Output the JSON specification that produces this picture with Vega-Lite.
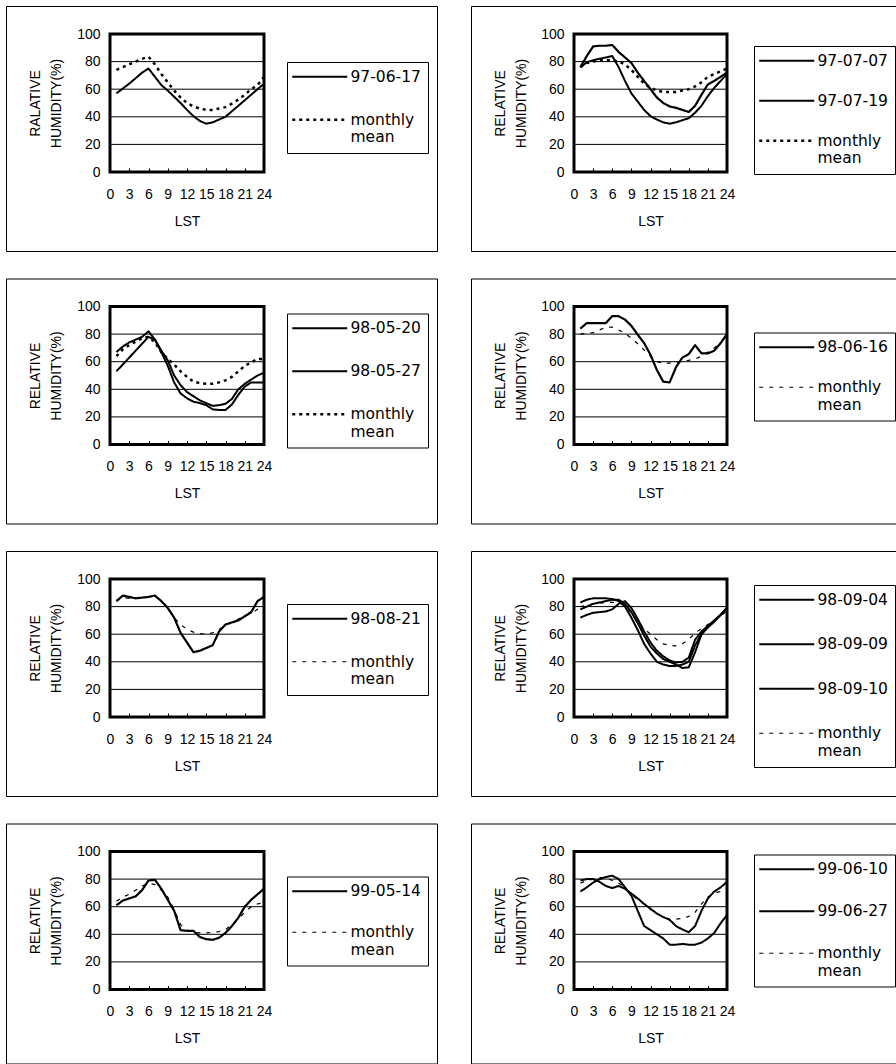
{
"$schema": "https://vega.github.io/schema/vega-lite/v6.json",
"padding": {"left": 5, "top": 5, "right": 0, "bottom": 0},
"background": "white",
"datasets": {
"p1": [
{"h":1,"s":"97-06-17","v":57},{"h":2,"s":"97-06-17","v":60.5},{"h":3,"s":"97-06-17","v":64},{"h":4,"s":"97-06-17","v":68},{"h":5,"s":"97-06-17","v":72},{"h":6,"s":"97-06-17","v":75},{"h":7,"s":"97-06-17","v":69},{"h":8,"s":"97-06-17","v":63},{"h":9,"s":"97-06-17","v":59},{"h":10,"s":"97-06-17","v":54.5},{"h":11,"s":"97-06-17","v":50},{"h":12,"s":"97-06-17","v":45},{"h":13,"s":"97-06-17","v":40.5},{"h":14,"s":"97-06-17","v":37},{"h":15,"s":"97-06-17","v":35},{"h":16,"s":"97-06-17","v":36},{"h":17,"s":"97-06-17","v":38},{"h":18,"s":"97-06-17","v":40},{"h":19,"s":"97-06-17","v":44},{"h":20,"s":"97-06-17","v":48},{"h":21,"s":"97-06-17","v":52},{"h":22,"s":"97-06-17","v":56},{"h":23,"s":"97-06-17","v":60},{"h":24,"s":"97-06-17","v":64},
{"h":1,"s":"monthly mean","v":74},{"h":2,"s":"monthly mean","v":76},{"h":3,"s":"monthly mean","v":78},{"h":4,"s":"monthly mean","v":80},{"h":5,"s":"monthly mean","v":82},{"h":6,"s":"monthly mean","v":83.5},{"h":7,"s":"monthly mean","v":78},{"h":8,"s":"monthly mean","v":71},{"h":9,"s":"monthly mean","v":65},{"h":10,"s":"monthly mean","v":59},{"h":11,"s":"monthly mean","v":54},{"h":12,"s":"monthly mean","v":50},{"h":13,"s":"monthly mean","v":47.5},{"h":14,"s":"monthly mean","v":46},{"h":15,"s":"monthly mean","v":45},{"h":16,"s":"monthly mean","v":45},{"h":17,"s":"monthly mean","v":46},{"h":18,"s":"monthly mean","v":47},{"h":19,"s":"monthly mean","v":49.5},{"h":20,"s":"monthly mean","v":52.5},{"h":21,"s":"monthly mean","v":56},{"h":22,"s":"monthly mean","v":60},{"h":23,"s":"monthly mean","v":63},{"h":24,"s":"monthly mean","v":69}
],
"p2": [
{"h":1,"s":"97-07-07","v":76},{"h":2,"s":"97-07-07","v":84},{"h":3,"s":"97-07-07","v":91},{"h":4,"s":"97-07-07","v":91.5},{"h":5,"s":"97-07-07","v":91.5},{"h":6,"s":"97-07-07","v":92},{"h":7,"s":"97-07-07","v":87},{"h":8,"s":"97-07-07","v":83},{"h":9,"s":"97-07-07","v":79},{"h":10,"s":"97-07-07","v":72},{"h":11,"s":"97-07-07","v":66},{"h":12,"s":"97-07-07","v":60},{"h":13,"s":"97-07-07","v":54},{"h":14,"s":"97-07-07","v":50},{"h":15,"s":"97-07-07","v":47.5},{"h":16,"s":"97-07-07","v":46.5},{"h":17,"s":"97-07-07","v":45},{"h":18,"s":"97-07-07","v":43.5},{"h":19,"s":"97-07-07","v":48},{"h":20,"s":"97-07-07","v":56},{"h":21,"s":"97-07-07","v":63.5},{"h":22,"s":"97-07-07","v":66},{"h":23,"s":"97-07-07","v":69},{"h":24,"s":"97-07-07","v":72},
{"h":1,"s":"97-07-19","v":76},{"h":2,"s":"97-07-19","v":79.5},{"h":3,"s":"97-07-19","v":81},{"h":4,"s":"97-07-19","v":82},{"h":5,"s":"97-07-19","v":83},{"h":6,"s":"97-07-19","v":84},{"h":7,"s":"97-07-19","v":76},{"h":8,"s":"97-07-19","v":66},{"h":9,"s":"97-07-19","v":57},{"h":10,"s":"97-07-19","v":51},{"h":11,"s":"97-07-19","v":45},{"h":12,"s":"97-07-19","v":40.5},{"h":13,"s":"97-07-19","v":38},{"h":14,"s":"97-07-19","v":36},{"h":15,"s":"97-07-19","v":35},{"h":16,"s":"97-07-19","v":36},{"h":17,"s":"97-07-19","v":37.5},{"h":18,"s":"97-07-19","v":39},{"h":19,"s":"97-07-19","v":43},{"h":20,"s":"97-07-19","v":48},{"h":21,"s":"97-07-19","v":55},{"h":22,"s":"97-07-19","v":61},{"h":23,"s":"97-07-19","v":66},{"h":24,"s":"97-07-19","v":71},
{"h":1,"s":"monthly mean","v":76},{"h":2,"s":"monthly mean","v":79},{"h":3,"s":"monthly mean","v":80},{"h":4,"s":"monthly mean","v":81},{"h":5,"s":"monthly mean","v":81},{"h":6,"s":"monthly mean","v":81},{"h":7,"s":"monthly mean","v":80},{"h":8,"s":"monthly mean","v":78},{"h":9,"s":"monthly mean","v":74},{"h":10,"s":"monthly mean","v":69},{"h":11,"s":"monthly mean","v":64},{"h":12,"s":"monthly mean","v":61},{"h":13,"s":"monthly mean","v":59},{"h":14,"s":"monthly mean","v":58},{"h":15,"s":"monthly mean","v":58},{"h":16,"s":"monthly mean","v":58},{"h":17,"s":"monthly mean","v":59},{"h":18,"s":"monthly mean","v":60},{"h":19,"s":"monthly mean","v":62},{"h":20,"s":"monthly mean","v":65},{"h":21,"s":"monthly mean","v":69},{"h":22,"s":"monthly mean","v":71},{"h":23,"s":"monthly mean","v":73},{"h":24,"s":"monthly mean","v":75}
],
"p3": [
{"h":1,"s":"98-05-20","v":53},{"h":2,"s":"98-05-20","v":58},{"h":3,"s":"98-05-20","v":63},{"h":4,"s":"98-05-20","v":68},{"h":5,"s":"98-05-20","v":73},{"h":6,"s":"98-05-20","v":78},{"h":7,"s":"98-05-20","v":76},{"h":8,"s":"98-05-20","v":68},{"h":9,"s":"98-05-20","v":61},{"h":10,"s":"98-05-20","v":50},{"h":11,"s":"98-05-20","v":43},{"h":12,"s":"98-05-20","v":38},{"h":13,"s":"98-05-20","v":35},{"h":14,"s":"98-05-20","v":32},{"h":15,"s":"98-05-20","v":30},{"h":16,"s":"98-05-20","v":28},{"h":17,"s":"98-05-20","v":28.5},{"h":18,"s":"98-05-20","v":29.5},{"h":19,"s":"98-05-20","v":33},{"h":20,"s":"98-05-20","v":40},{"h":21,"s":"98-05-20","v":44},{"h":22,"s":"98-05-20","v":47},{"h":23,"s":"98-05-20","v":50},{"h":24,"s":"98-05-20","v":52},
{"h":1,"s":"98-05-27","v":67},{"h":2,"s":"98-05-27","v":71},{"h":3,"s":"98-05-27","v":74},{"h":4,"s":"98-05-27","v":76},{"h":5,"s":"98-05-27","v":78},{"h":6,"s":"98-05-27","v":82},{"h":7,"s":"98-05-27","v":76},{"h":8,"s":"98-05-27","v":67},{"h":9,"s":"98-05-27","v":57},{"h":10,"s":"98-05-27","v":45},{"h":11,"s":"98-05-27","v":37},{"h":12,"s":"98-05-27","v":33.5},{"h":13,"s":"98-05-27","v":31},{"h":14,"s":"98-05-27","v":30},{"h":15,"s":"98-05-27","v":28.5},{"h":16,"s":"98-05-27","v":25.5},{"h":17,"s":"98-05-27","v":25},{"h":18,"s":"98-05-27","v":25},{"h":19,"s":"98-05-27","v":29},{"h":20,"s":"98-05-27","v":36},{"h":21,"s":"98-05-27","v":42},{"h":22,"s":"98-05-27","v":45},{"h":23,"s":"98-05-27","v":45},{"h":24,"s":"98-05-27","v":45},
{"h":1,"s":"monthly mean","v":64},{"h":2,"s":"monthly mean","v":69},{"h":3,"s":"monthly mean","v":72},{"h":4,"s":"monthly mean","v":74.5},{"h":5,"s":"monthly mean","v":77},{"h":6,"s":"monthly mean","v":78},{"h":7,"s":"monthly mean","v":74},{"h":8,"s":"monthly mean","v":67},{"h":9,"s":"monthly mean","v":62},{"h":10,"s":"monthly mean","v":58},{"h":11,"s":"monthly mean","v":53},{"h":12,"s":"monthly mean","v":49},{"h":13,"s":"monthly mean","v":45.5},{"h":14,"s":"monthly mean","v":44.5},{"h":15,"s":"monthly mean","v":44},{"h":16,"s":"monthly mean","v":44},{"h":17,"s":"monthly mean","v":45},{"h":18,"s":"monthly mean","v":46.5},{"h":19,"s":"monthly mean","v":49},{"h":20,"s":"monthly mean","v":53},{"h":21,"s":"monthly mean","v":57},{"h":22,"s":"monthly mean","v":59.5},{"h":23,"s":"monthly mean","v":62},{"h":24,"s":"monthly mean","v":62}
],
"p4": [
{"h":1,"s":"98-06-16","v":84},{"h":2,"s":"98-06-16","v":88},{"h":3,"s":"98-06-16","v":88},{"h":4,"s":"98-06-16","v":88},{"h":5,"s":"98-06-16","v":88},{"h":6,"s":"98-06-16","v":93},{"h":7,"s":"98-06-16","v":93},{"h":8,"s":"98-06-16","v":90.5},{"h":9,"s":"98-06-16","v":86},{"h":10,"s":"98-06-16","v":79.5},{"h":11,"s":"98-06-16","v":73.5},{"h":12,"s":"98-06-16","v":65},{"h":13,"s":"98-06-16","v":54},{"h":14,"s":"98-06-16","v":45.5},{"h":15,"s":"98-06-16","v":45},{"h":16,"s":"98-06-16","v":56},{"h":17,"s":"98-06-16","v":63},{"h":18,"s":"98-06-16","v":65.5},{"h":19,"s":"98-06-16","v":72},{"h":20,"s":"98-06-16","v":66},{"h":21,"s":"98-06-16","v":66},{"h":22,"s":"98-06-16","v":68},{"h":23,"s":"98-06-16","v":73.5},{"h":24,"s":"98-06-16","v":80},
{"h":1,"s":"monthly mean","v":80},{"h":2,"s":"monthly mean","v":80.5},{"h":3,"s":"monthly mean","v":81},{"h":4,"s":"monthly mean","v":83},{"h":5,"s":"monthly mean","v":85},{"h":6,"s":"monthly mean","v":85},{"h":7,"s":"monthly mean","v":83},{"h":8,"s":"monthly mean","v":80.5},{"h":9,"s":"monthly mean","v":77},{"h":10,"s":"monthly mean","v":73},{"h":11,"s":"monthly mean","v":68.5},{"h":12,"s":"monthly mean","v":64},{"h":13,"s":"monthly mean","v":60},{"h":14,"s":"monthly mean","v":59},{"h":15,"s":"monthly mean","v":59},{"h":16,"s":"monthly mean","v":59.5},{"h":17,"s":"monthly mean","v":60},{"h":18,"s":"monthly mean","v":61},{"h":19,"s":"monthly mean","v":62},{"h":20,"s":"monthly mean","v":64},{"h":21,"s":"monthly mean","v":67},{"h":22,"s":"monthly mean","v":70},{"h":23,"s":"monthly mean","v":74},{"h":24,"s":"monthly mean","v":79}
],
"p5": [
{"h":1,"s":"98-08-21","v":84},{"h":2,"s":"98-08-21","v":88},{"h":3,"s":"98-08-21","v":87},{"h":4,"s":"98-08-21","v":86},{"h":5,"s":"98-08-21","v":86.5},{"h":6,"s":"98-08-21","v":87},{"h":7,"s":"98-08-21","v":88},{"h":8,"s":"98-08-21","v":84},{"h":9,"s":"98-08-21","v":79},{"h":10,"s":"98-08-21","v":72},{"h":11,"s":"98-08-21","v":61},{"h":12,"s":"98-08-21","v":54},{"h":13,"s":"98-08-21","v":47},{"h":14,"s":"98-08-21","v":48},{"h":15,"s":"98-08-21","v":50},{"h":16,"s":"98-08-21","v":52},{"h":17,"s":"98-08-21","v":62},{"h":18,"s":"98-08-21","v":67},{"h":19,"s":"98-08-21","v":68.5},{"h":20,"s":"98-08-21","v":70},{"h":21,"s":"98-08-21","v":73},{"h":22,"s":"98-08-21","v":76},{"h":23,"s":"98-08-21","v":84},{"h":24,"s":"98-08-21","v":87},
{"h":1,"s":"monthly mean","v":84},{"h":2,"s":"monthly mean","v":86.5},{"h":3,"s":"monthly mean","v":86},{"h":4,"s":"monthly mean","v":86},{"h":5,"s":"monthly mean","v":86},{"h":6,"s":"monthly mean","v":87},{"h":7,"s":"monthly mean","v":87.5},{"h":8,"s":"monthly mean","v":84},{"h":9,"s":"monthly mean","v":79},{"h":10,"s":"monthly mean","v":72},{"h":11,"s":"monthly mean","v":67},{"h":12,"s":"monthly mean","v":63.5},{"h":13,"s":"monthly mean","v":61.5},{"h":14,"s":"monthly mean","v":60.5},{"h":15,"s":"monthly mean","v":60},{"h":16,"s":"monthly mean","v":61},{"h":17,"s":"monthly mean","v":63.5},{"h":18,"s":"monthly mean","v":66.5},{"h":19,"s":"monthly mean","v":69},{"h":20,"s":"monthly mean","v":71},{"h":21,"s":"monthly mean","v":73},{"h":22,"s":"monthly mean","v":75},{"h":23,"s":"monthly mean","v":78},{"h":24,"s":"monthly mean","v":80}
],
"p6": [
{"h":1,"s":"98-09-04","v":83},{"h":2,"s":"98-09-04","v":85},{"h":3,"s":"98-09-04","v":86},{"h":4,"s":"98-09-04","v":86},{"h":5,"s":"98-09-04","v":86},{"h":6,"s":"98-09-04","v":85.5},{"h":7,"s":"98-09-04","v":84},{"h":8,"s":"98-09-04","v":80},{"h":9,"s":"98-09-04","v":72},{"h":10,"s":"98-09-04","v":63},{"h":11,"s":"98-09-04","v":53},{"h":12,"s":"98-09-04","v":46},{"h":13,"s":"98-09-04","v":40},{"h":14,"s":"98-09-04","v":38},{"h":15,"s":"98-09-04","v":37},{"h":16,"s":"98-09-04","v":37},{"h":17,"s":"98-09-04","v":38},{"h":18,"s":"98-09-04","v":40},{"h":19,"s":"98-09-04","v":52},{"h":20,"s":"98-09-04","v":60},{"h":21,"s":"98-09-04","v":65},{"h":22,"s":"98-09-04","v":69},{"h":23,"s":"98-09-04","v":74},{"h":24,"s":"98-09-04","v":79},
{"h":1,"s":"98-09-09","v":78},{"h":2,"s":"98-09-09","v":80},{"h":3,"s":"98-09-09","v":82},{"h":4,"s":"98-09-09","v":83},{"h":5,"s":"98-09-09","v":84},{"h":6,"s":"98-09-09","v":85},{"h":7,"s":"98-09-09","v":85},{"h":8,"s":"98-09-09","v":82},{"h":9,"s":"98-09-09","v":76},{"h":10,"s":"98-09-09","v":68},{"h":11,"s":"98-09-09","v":59},{"h":12,"s":"98-09-09","v":51},{"h":13,"s":"98-09-09","v":46},{"h":14,"s":"98-09-09","v":42},{"h":15,"s":"98-09-09","v":40},{"h":16,"s":"98-09-09","v":38},{"h":17,"s":"98-09-09","v":35.5},{"h":18,"s":"98-09-09","v":36},{"h":19,"s":"98-09-09","v":47},{"h":20,"s":"98-09-09","v":60},{"h":21,"s":"98-09-09","v":65},{"h":22,"s":"98-09-09","v":69.5},{"h":23,"s":"98-09-09","v":74},{"h":24,"s":"98-09-09","v":79},
{"h":1,"s":"98-09-10","v":72},{"h":2,"s":"98-09-10","v":74},{"h":3,"s":"98-09-10","v":75.5},{"h":4,"s":"98-09-10","v":76},{"h":5,"s":"98-09-10","v":76.5},{"h":6,"s":"98-09-10","v":78},{"h":7,"s":"98-09-10","v":82},{"h":8,"s":"98-09-10","v":84},{"h":9,"s":"98-09-10","v":79},{"h":10,"s":"98-09-10","v":71},{"h":11,"s":"98-09-10","v":62},{"h":12,"s":"98-09-10","v":54},{"h":13,"s":"98-09-10","v":48},{"h":14,"s":"98-09-10","v":44},{"h":15,"s":"98-09-10","v":41},{"h":16,"s":"98-09-10","v":39.5},{"h":17,"s":"98-09-10","v":40},{"h":18,"s":"98-09-10","v":43},{"h":19,"s":"98-09-10","v":56},{"h":20,"s":"98-09-10","v":62},{"h":21,"s":"98-09-10","v":66},{"h":22,"s":"98-09-10","v":70},{"h":23,"s":"98-09-10","v":74},{"h":24,"s":"98-09-10","v":79},
{"h":1,"s":"monthly mean","v":80},{"h":2,"s":"monthly mean","v":81},{"h":3,"s":"monthly mean","v":82},{"h":4,"s":"monthly mean","v":82.5},{"h":5,"s":"monthly mean","v":83},{"h":6,"s":"monthly mean","v":83},{"h":7,"s":"monthly mean","v":83},{"h":8,"s":"monthly mean","v":81.5},{"h":9,"s":"monthly mean","v":75},{"h":10,"s":"monthly mean","v":69},{"h":11,"s":"monthly mean","v":64},{"h":12,"s":"monthly mean","v":60},{"h":13,"s":"monthly mean","v":56},{"h":14,"s":"monthly mean","v":53},{"h":15,"s":"monthly mean","v":52},{"h":16,"s":"monthly mean","v":51.5},{"h":17,"s":"monthly mean","v":53},{"h":18,"s":"monthly mean","v":56},{"h":19,"s":"monthly mean","v":61},{"h":20,"s":"monthly mean","v":64},{"h":21,"s":"monthly mean","v":67},{"h":22,"s":"monthly mean","v":70},{"h":23,"s":"monthly mean","v":73},{"h":24,"s":"monthly mean","v":77}
],
"p7": [
{"h":1,"s":"99-05-14","v":61},{"h":2,"s":"99-05-14","v":64.5},{"h":3,"s":"99-05-14","v":66},{"h":4,"s":"99-05-14","v":67.5},{"h":5,"s":"99-05-14","v":72},{"h":6,"s":"99-05-14","v":79},{"h":7,"s":"99-05-14","v":79.5},{"h":8,"s":"99-05-14","v":73},{"h":9,"s":"99-05-14","v":65},{"h":10,"s":"99-05-14","v":57},{"h":11,"s":"99-05-14","v":43},{"h":12,"s":"99-05-14","v":42.5},{"h":13,"s":"99-05-14","v":42.5},{"h":14,"s":"99-05-14","v":38},{"h":15,"s":"99-05-14","v":36.5},{"h":16,"s":"99-05-14","v":36},{"h":17,"s":"99-05-14","v":37.5},{"h":18,"s":"99-05-14","v":41},{"h":19,"s":"99-05-14","v":46},{"h":20,"s":"99-05-14","v":52},{"h":21,"s":"99-05-14","v":60},{"h":22,"s":"99-05-14","v":65},{"h":23,"s":"99-05-14","v":69},{"h":24,"s":"99-05-14","v":73},
{"h":1,"s":"monthly mean","v":64},{"h":2,"s":"monthly mean","v":67},{"h":3,"s":"monthly mean","v":69},{"h":4,"s":"monthly mean","v":72},{"h":5,"s":"monthly mean","v":75},{"h":6,"s":"monthly mean","v":77},{"h":7,"s":"monthly mean","v":76},{"h":8,"s":"monthly mean","v":72},{"h":9,"s":"monthly mean","v":67},{"h":10,"s":"monthly mean","v":58},{"h":11,"s":"monthly mean","v":47},{"h":12,"s":"monthly mean","v":43},{"h":13,"s":"monthly mean","v":41.5},{"h":14,"s":"monthly mean","v":41},{"h":15,"s":"monthly mean","v":41},{"h":16,"s":"monthly mean","v":41.5},{"h":17,"s":"monthly mean","v":42},{"h":18,"s":"monthly mean","v":43.5},{"h":19,"s":"monthly mean","v":47},{"h":20,"s":"monthly mean","v":51},{"h":21,"s":"monthly mean","v":56},{"h":22,"s":"monthly mean","v":60},{"h":23,"s":"monthly mean","v":62},{"h":24,"s":"monthly mean","v":63}
],
"p8": [
{"h":1,"s":"99-06-10","v":71},{"h":2,"s":"99-06-10","v":74},{"h":3,"s":"99-06-10","v":77.5},{"h":4,"s":"99-06-10","v":80},{"h":5,"s":"99-06-10","v":81.5},{"h":6,"s":"99-06-10","v":82.5},{"h":7,"s":"99-06-10","v":80},{"h":8,"s":"99-06-10","v":74},{"h":9,"s":"99-06-10","v":68},{"h":10,"s":"99-06-10","v":57},{"h":11,"s":"99-06-10","v":46},{"h":12,"s":"99-06-10","v":43},{"h":13,"s":"99-06-10","v":40},{"h":14,"s":"99-06-10","v":37},{"h":15,"s":"99-06-10","v":32.5},{"h":16,"s":"99-06-10","v":32.5},{"h":17,"s":"99-06-10","v":33},{"h":18,"s":"99-06-10","v":32.5},{"h":19,"s":"99-06-10","v":32.5},{"h":20,"s":"99-06-10","v":34},{"h":21,"s":"99-06-10","v":37},{"h":22,"s":"99-06-10","v":41},{"h":23,"s":"99-06-10","v":48},{"h":24,"s":"99-06-10","v":54},
{"h":1,"s":"99-06-27","v":79},{"h":2,"s":"99-06-27","v":80},{"h":3,"s":"99-06-27","v":80},{"h":4,"s":"99-06-27","v":78},{"h":5,"s":"99-06-27","v":75},{"h":6,"s":"99-06-27","v":73.5},{"h":7,"s":"99-06-27","v":75},{"h":8,"s":"99-06-27","v":73},{"h":9,"s":"99-06-27","v":69.5},{"h":10,"s":"99-06-27","v":66},{"h":11,"s":"99-06-27","v":62},{"h":12,"s":"99-06-27","v":58.5},{"h":13,"s":"99-06-27","v":55},{"h":14,"s":"99-06-27","v":52.5},{"h":15,"s":"99-06-27","v":50.5},{"h":16,"s":"99-06-27","v":46},{"h":17,"s":"99-06-27","v":43.5},{"h":18,"s":"99-06-27","v":41.5},{"h":19,"s":"99-06-27","v":46},{"h":20,"s":"99-06-27","v":57},{"h":21,"s":"99-06-27","v":66},{"h":22,"s":"99-06-27","v":71},{"h":23,"s":"99-06-27","v":74},{"h":24,"s":"99-06-27","v":78},
{"h":1,"s":"monthly mean","v":77},{"h":2,"s":"monthly mean","v":79},{"h":3,"s":"monthly mean","v":80},{"h":4,"s":"monthly mean","v":81},{"h":5,"s":"monthly mean","v":81},{"h":6,"s":"monthly mean","v":79},{"h":7,"s":"monthly mean","v":77},{"h":8,"s":"monthly mean","v":74},{"h":9,"s":"monthly mean","v":69},{"h":10,"s":"monthly mean","v":65},{"h":11,"s":"monthly mean","v":62},{"h":12,"s":"monthly mean","v":58},{"h":13,"s":"monthly mean","v":55},{"h":14,"s":"monthly mean","v":52.5},{"h":15,"s":"monthly mean","v":51},{"h":16,"s":"monthly mean","v":51},{"h":17,"s":"monthly mean","v":51.5},{"h":18,"s":"monthly mean","v":53},{"h":19,"s":"monthly mean","v":56},{"h":20,"s":"monthly mean","v":62},{"h":21,"s":"monthly mean","v":67},{"h":22,"s":"monthly mean","v":70},{"h":23,"s":"monthly mean","v":71},{"h":24,"s":"monthly mean","v":72}
],
"grid": [{"g":20},{"g":40},{"g":60},{"g":80}],
"frame": [{"k":"plot"}]
},
"spacing": 25.5,
"resolve": {"scale": {"x":"independent","y":"independent","strokeDash":"independent","strokeWidth":"independent"}, "legend": {"strokeDash":"independent","strokeWidth":"independent"}},
"vconcat": [
{"hconcat": [
{"width": 431, "height": 245, "data": {"name": "p1"}, "layer": [
 {"data": {"name": "grid"}, "mark": {"type": "rule", "stroke": "black", "strokeWidth": 1}, "encoding": {"y": {"field": "g", "type": "quantitative", "scale": {"domain": [0,100], "range": [166,28], "nice": false, "zero": false}}, "x": {"datum": 0, "type": "quantitative", "scale": {"domain": [0,24], "range": [104,258], "nice": false, "zero": false}}, "x2": {"datum": 24}}},
 {"mark": {"type": "line"}, "encoding": {
  "x": {"field": "h", "type": "quantitative", "scale": {"domain": [0,24], "range": [104,258], "nice": false, "zero": false}, "axis": {"title": "LST", "values": [0,3,6,9,12,15,18,21,24], "offset": -79, "tickSize": -4, "labelPadding": 19, "labelFlush": false, "labelOverlap": false, "titleX": 181, "titleY": 49, "titleBaseline": "middle"}},
  "y": {"field": "v", "type": "quantitative", "scale": {"domain": [0,100], "range": [166,28], "nice": false, "zero": false}, "axis": {"title": ["RALATIVE","HUMIDITY(%)"], "values": [0,20,40,60,80,100], "offset": -104, "ticks": false, "labelPadding": 10, "titleX": -75, "titleY": 97, "titleAngle": -90, "titleBaseline": "middle", "titleAlign": "center", "titleLineHeight": 21}},
  "strokeDash": {"field": "s", "type": "nominal", "scale": {"domain": ["97-06-17","monthly mean"], "range": [[1,0],[3,4]]}, "legend": {"orient": "none", "legendX": 281, "legendY": 56, "title": null, "rowPadding": 26, "padding": 7, "strokeColor": "black", "fillColor": "white", "symbolType": "M-5,0H5", "symbolSize": 121, "symbolOffset": 18, "labelOffset": 23, "symbolStrokeColor": "black", "labelFont": "DejaVu Sans", "labelFontSize": 15.5, "labelColor": "black", "labelLimit": 300, "labelExpr": "datum.label == 'monthly mean' ? ['monthly','mean'] : datum.label"}},
  "strokeWidth": {"field": "s", "type": "nominal", "scale": {"type": "ordinal", "domain": ["97-06-17","monthly mean"], "range": [2,2.5]}, "legend": {"orient": "none", "legendX": 281, "legendY": 56, "title": null, "rowPadding": 26, "padding": 7, "strokeColor": "black", "fillColor": "white", "symbolType": "M-5,0H5", "symbolSize": 121, "symbolOffset": 18, "labelOffset": 23, "symbolStrokeColor": "black", "labelFont": "DejaVu Sans", "labelFontSize": 15.5, "labelColor": "black", "labelLimit": 300, "labelExpr": "datum.label == 'monthly mean' ? ['monthly','mean'] : datum.label"}},
  "color": {"value": "black"}}},
 {"data": {"name": "frame"}, "mark": {"type": "rect", "filled": false, "stroke": "black", "strokeWidth": 3}, "encoding": {"x": {"datum": 0, "type": "quantitative"}, "x2": {"datum": 24}, "y": {"datum": 0, "type": "quantitative"}, "y2": {"datum": 100}}}
]},
{"width": 426, "height": 245, "data": {"name": "p2"}, "layer": [
 {"data": {"name": "grid"}, "mark": {"type": "rule", "stroke": "black", "strokeWidth": 1}, "encoding": {"y": {"field": "g", "type": "quantitative", "scale": {"domain": [0,100], "range": [166,28], "nice": false, "zero": false}}, "x": {"datum": 0, "type": "quantitative", "scale": {"domain": [0,24], "range": [103,256], "nice": false, "zero": false}}, "x2": {"datum": 24}}},
 {"mark": {"type": "line"}, "encoding": {
  "x": {"field": "h", "type": "quantitative", "scale": {"domain": [0,24], "range": [103,256], "nice": false, "zero": false}, "axis": {"title": "LST", "values": [0,3,6,9,12,15,18,21,24], "offset": -79, "tickSize": -4, "labelPadding": 19, "labelFlush": false, "labelOverlap": false, "titleX": 179.5, "titleY": 49, "titleBaseline": "middle"}},
  "y": {"field": "v", "type": "quantitative", "scale": {"domain": [0,100], "range": [166,28], "nice": false, "zero": false}, "axis": {"title": ["RELATIVE","HUMIDITY(%)"], "values": [0,20,40,60,80,100], "offset": -103, "ticks": false, "labelPadding": 10, "titleX": -74, "titleY": 97, "titleAngle": -90, "titleBaseline": "middle", "titleAlign": "center", "titleLineHeight": 21}},
  "strokeDash": {"field": "s", "type": "nominal", "scale": {"domain": ["97-07-07","97-07-19","monthly mean"], "range": [[1,0],[1,0],[3,4]]}, "legend": {"orient": "none", "legendX": 283, "legendY": 40, "title": null, "rowPadding": 23, "padding": 7, "strokeColor": "black", "fillColor": "white", "symbolType": "M-5,0H5", "symbolSize": 121, "symbolOffset": 18, "labelOffset": 23, "symbolStrokeColor": "black", "labelFont": "DejaVu Sans", "labelFontSize": 15.5, "labelColor": "black", "labelLimit": 300, "labelExpr": "datum.label == 'monthly mean' ? ['monthly','mean'] : datum.label"}},
  "strokeWidth": {"field": "s", "type": "nominal", "scale": {"type": "ordinal", "domain": ["97-07-07","97-07-19","monthly mean"], "range": [2.2,2,2.5]}, "legend": {"orient": "none", "legendX": 283, "legendY": 40, "title": null, "rowPadding": 23, "padding": 7, "strokeColor": "black", "fillColor": "white", "symbolType": "M-5,0H5", "symbolSize": 121, "symbolOffset": 18, "labelOffset": 23, "symbolStrokeColor": "black", "labelFont": "DejaVu Sans", "labelFontSize": 15.5, "labelColor": "black", "labelLimit": 300, "labelExpr": "datum.label == 'monthly mean' ? ['monthly','mean'] : datum.label"}},
  "color": {"value": "black"}}},
 {"data": {"name": "frame"}, "mark": {"type": "rect", "filled": false, "stroke": "black", "strokeWidth": 3}, "encoding": {"x": {"datum": 0, "type": "quantitative"}, "x2": {"datum": 24}, "y": {"datum": 0, "type": "quantitative"}, "y2": {"datum": 100}}}
]}
], "spacing": 34, "bounds": "flush", "resolve": {"scale": {"x":"independent","y":"independent","strokeDash":"independent","strokeWidth":"independent"}, "legend": {"strokeDash":"independent","strokeWidth":"independent"}}},
{"hconcat": [
{"width": 431, "height": 245, "data": {"name": "p3"}, "layer": [
 {"data": {"name": "grid"}, "mark": {"type": "rule", "stroke": "black", "strokeWidth": 1}, "encoding": {"y": {"field": "g", "type": "quantitative", "scale": {"domain": [0,100], "range": [166,28], "nice": false, "zero": false}}, "x": {"datum": 0, "type": "quantitative", "scale": {"domain": [0,24], "range": [104,258], "nice": false, "zero": false}}, "x2": {"datum": 24}}},
 {"mark": {"type": "line"}, "encoding": {
  "x": {"field": "h", "type": "quantitative", "scale": {"domain": [0,24], "range": [104,258], "nice": false, "zero": false}, "axis": {"title": "LST", "values": [0,3,6,9,12,15,18,21,24], "offset": -79, "tickSize": -4, "labelPadding": 19, "labelFlush": false, "labelOverlap": false, "titleX": 181, "titleY": 49, "titleBaseline": "middle"}},
  "y": {"field": "v", "type": "quantitative", "scale": {"domain": [0,100], "range": [166,28], "nice": false, "zero": false}, "axis": {"title": ["RELATIVE","HUMIDITY(%)"], "values": [0,20,40,60,80,100], "offset": -104, "ticks": false, "labelPadding": 10, "titleX": -75, "titleY": 97, "titleAngle": -90, "titleBaseline": "middle", "titleAlign": "center", "titleLineHeight": 21}},
  "strokeDash": {"field": "s", "type": "nominal", "scale": {"domain": ["98-05-20","98-05-27","monthly mean"], "range": [[1,0],[1,0],[3,4]]}, "legend": {"orient": "none", "legendX": 281, "legendY": 35, "title": null, "rowPadding": 26, "padding": 7, "strokeColor": "black", "fillColor": "white", "symbolType": "M-5,0H5", "symbolSize": 121, "symbolOffset": 18, "labelOffset": 23, "symbolStrokeColor": "black", "labelFont": "DejaVu Sans", "labelFontSize": 15.5, "labelColor": "black", "labelLimit": 300, "labelExpr": "datum.label == 'monthly mean' ? ['monthly','mean'] : datum.label"}},
  "strokeWidth": {"field": "s", "type": "nominal", "scale": {"type": "ordinal", "domain": ["98-05-20","98-05-27","monthly mean"], "range": [2,2,2.5]}, "legend": {"orient": "none", "legendX": 281, "legendY": 35, "title": null, "rowPadding": 26, "padding": 7, "strokeColor": "black", "fillColor": "white", "symbolType": "M-5,0H5", "symbolSize": 121, "symbolOffset": 18, "labelOffset": 23, "symbolStrokeColor": "black", "labelFont": "DejaVu Sans", "labelFontSize": 15.5, "labelColor": "black", "labelLimit": 300, "labelExpr": "datum.label == 'monthly mean' ? ['monthly','mean'] : datum.label"}},
  "color": {"value": "black"}}},
 {"data": {"name": "frame"}, "mark": {"type": "rect", "filled": false, "stroke": "black", "strokeWidth": 3}, "encoding": {"x": {"datum": 0, "type": "quantitative"}, "x2": {"datum": 24}, "y": {"datum": 0, "type": "quantitative"}, "y2": {"datum": 100}}}
]},
{"width": 426, "height": 245, "data": {"name": "p4"}, "layer": [
 {"data": {"name": "grid"}, "mark": {"type": "rule", "stroke": "black", "strokeWidth": 1}, "encoding": {"y": {"field": "g", "type": "quantitative", "scale": {"domain": [0,100], "range": [166,28], "nice": false, "zero": false}}, "x": {"datum": 0, "type": "quantitative", "scale": {"domain": [0,24], "range": [103,256], "nice": false, "zero": false}}, "x2": {"datum": 24}}},
 {"mark": {"type": "line"}, "encoding": {
  "x": {"field": "h", "type": "quantitative", "scale": {"domain": [0,24], "range": [103,256], "nice": false, "zero": false}, "axis": {"title": "LST", "values": [0,3,6,9,12,15,18,21,24], "offset": -79, "tickSize": -4, "labelPadding": 19, "labelFlush": false, "labelOverlap": false, "titleX": 179.5, "titleY": 49, "titleBaseline": "middle"}},
  "y": {"field": "v", "type": "quantitative", "scale": {"domain": [0,100], "range": [166,28], "nice": false, "zero": false}, "axis": {"title": ["RELATIVE","HUMIDITY(%)"], "values": [0,20,40,60,80,100], "offset": -103, "ticks": false, "labelPadding": 10, "titleX": -74, "titleY": 97, "titleAngle": -90, "titleBaseline": "middle", "titleAlign": "center", "titleLineHeight": 21}},
  "strokeDash": {"field": "s", "type": "nominal", "scale": {"domain": ["98-06-16","monthly mean"], "range": [[1,0],[4,6]]}, "legend": {"orient": "none", "legendX": 283, "legendY": 54, "title": null, "rowPadding": 23, "padding": 7, "strokeColor": "black", "fillColor": "white", "symbolType": "M-5,0H5", "symbolSize": 121, "symbolOffset": 18, "labelOffset": 23, "symbolStrokeColor": "black", "labelFont": "DejaVu Sans", "labelFontSize": 15.5, "labelColor": "black", "labelLimit": 300, "labelExpr": "datum.label == 'monthly mean' ? ['monthly','mean'] : datum.label"}},
  "strokeWidth": {"field": "s", "type": "nominal", "scale": {"type": "ordinal", "domain": ["98-06-16","monthly mean"], "range": [2.2,1.2]}, "legend": {"orient": "none", "legendX": 283, "legendY": 54, "title": null, "rowPadding": 23, "padding": 7, "strokeColor": "black", "fillColor": "white", "symbolType": "M-5,0H5", "symbolSize": 121, "symbolOffset": 18, "labelOffset": 23, "symbolStrokeColor": "black", "labelFont": "DejaVu Sans", "labelFontSize": 15.5, "labelColor": "black", "labelLimit": 300, "labelExpr": "datum.label == 'monthly mean' ? ['monthly','mean'] : datum.label"}},
  "color": {"value": "black"}}},
 {"data": {"name": "frame"}, "mark": {"type": "rect", "filled": false, "stroke": "black", "strokeWidth": 3}, "encoding": {"x": {"datum": 0, "type": "quantitative"}, "x2": {"datum": 24}, "y": {"datum": 0, "type": "quantitative"}, "y2": {"datum": 100}}}
]}
], "spacing": 34, "bounds": "flush", "resolve": {"scale": {"x":"independent","y":"independent","strokeDash":"independent","strokeWidth":"independent"}, "legend": {"strokeDash":"independent","strokeWidth":"independent"}}},
{"hconcat": [
{"width": 431, "height": 245, "data": {"name": "p5"}, "layer": [
 {"data": {"name": "grid"}, "mark": {"type": "rule", "stroke": "black", "strokeWidth": 1}, "encoding": {"y": {"field": "g", "type": "quantitative", "scale": {"domain": [0,100], "range": [166,28], "nice": false, "zero": false}}, "x": {"datum": 0, "type": "quantitative", "scale": {"domain": [0,24], "range": [104,258], "nice": false, "zero": false}}, "x2": {"datum": 24}}},
 {"mark": {"type": "line"}, "encoding": {
  "x": {"field": "h", "type": "quantitative", "scale": {"domain": [0,24], "range": [104,258], "nice": false, "zero": false}, "axis": {"title": "LST", "values": [0,3,6,9,12,15,18,21,24], "offset": -79, "tickSize": -4, "labelPadding": 19, "labelFlush": false, "labelOverlap": false, "titleX": 181, "titleY": 49, "titleBaseline": "middle"}},
  "y": {"field": "v", "type": "quantitative", "scale": {"domain": [0,100], "range": [166,28], "nice": false, "zero": false}, "axis": {"title": ["RELATIVE","HUMIDITY(%)"], "values": [0,20,40,60,80,100], "offset": -104, "ticks": false, "labelPadding": 10, "titleX": -75, "titleY": 97, "titleAngle": -90, "titleBaseline": "middle", "titleAlign": "center", "titleLineHeight": 21}},
  "strokeDash": {"field": "s", "type": "nominal", "scale": {"domain": ["98-08-21","monthly mean"], "range": [[1,0],[4,6]]}, "legend": {"orient": "none", "legendX": 281, "legendY": 53, "title": null, "rowPadding": 26, "padding": 7, "strokeColor": "black", "fillColor": "white", "symbolType": "M-5,0H5", "symbolSize": 121, "symbolOffset": 18, "labelOffset": 23, "symbolStrokeColor": "black", "labelFont": "DejaVu Sans", "labelFontSize": 15.5, "labelColor": "black", "labelLimit": 300, "labelExpr": "datum.label == 'monthly mean' ? ['monthly','mean'] : datum.label"}},
  "strokeWidth": {"field": "s", "type": "nominal", "scale": {"type": "ordinal", "domain": ["98-08-21","monthly mean"], "range": [2.2,1.2]}, "legend": {"orient": "none", "legendX": 281, "legendY": 53, "title": null, "rowPadding": 26, "padding": 7, "strokeColor": "black", "fillColor": "white", "symbolType": "M-5,0H5", "symbolSize": 121, "symbolOffset": 18, "labelOffset": 23, "symbolStrokeColor": "black", "labelFont": "DejaVu Sans", "labelFontSize": 15.5, "labelColor": "black", "labelLimit": 300, "labelExpr": "datum.label == 'monthly mean' ? ['monthly','mean'] : datum.label"}},
  "color": {"value": "black"}}},
 {"data": {"name": "frame"}, "mark": {"type": "rect", "filled": false, "stroke": "black", "strokeWidth": 3}, "encoding": {"x": {"datum": 0, "type": "quantitative"}, "x2": {"datum": 24}, "y": {"datum": 0, "type": "quantitative"}, "y2": {"datum": 100}}}
]},
{"width": 426, "height": 245, "data": {"name": "p6"}, "layer": [
 {"data": {"name": "grid"}, "mark": {"type": "rule", "stroke": "black", "strokeWidth": 1}, "encoding": {"y": {"field": "g", "type": "quantitative", "scale": {"domain": [0,100], "range": [166,28], "nice": false, "zero": false}}, "x": {"datum": 0, "type": "quantitative", "scale": {"domain": [0,24], "range": [103,256], "nice": false, "zero": false}}, "x2": {"datum": 24}}},
 {"mark": {"type": "line"}, "encoding": {
  "x": {"field": "h", "type": "quantitative", "scale": {"domain": [0,24], "range": [103,256], "nice": false, "zero": false}, "axis": {"title": "LST", "values": [0,3,6,9,12,15,18,21,24], "offset": -79, "tickSize": -4, "labelPadding": 19, "labelFlush": false, "labelOverlap": false, "titleX": 179.5, "titleY": 49, "titleBaseline": "middle"}},
  "y": {"field": "v", "type": "quantitative", "scale": {"domain": [0,100], "range": [166,28], "nice": false, "zero": false}, "axis": {"title": ["RELATIVE","HUMIDITY(%)"], "values": [0,20,40,60,80,100], "offset": -103, "ticks": false, "labelPadding": 10, "titleX": -74, "titleY": 97, "titleAngle": -90, "titleBaseline": "middle", "titleAlign": "center", "titleLineHeight": 21}},
  "strokeDash": {"field": "s", "type": "nominal", "scale": {"domain": ["98-09-04","98-09-09","98-09-10","monthly mean"], "range": [[1,0],[1,0],[1,0],[4,6]]}, "legend": {"orient": "none", "legendX": 283, "legendY": 34, "title": null, "rowPadding": 27.5, "padding": 7, "strokeColor": "black", "fillColor": "white", "symbolType": "M-5,0H5", "symbolSize": 121, "symbolOffset": 18, "labelOffset": 23, "symbolStrokeColor": "black", "labelFont": "DejaVu Sans", "labelFontSize": 15.5, "labelColor": "black", "labelLimit": 300, "labelExpr": "datum.label == 'monthly mean' ? ['monthly','mean'] : datum.label"}},
  "strokeWidth": {"field": "s", "type": "nominal", "scale": {"type": "ordinal", "domain": ["98-09-04","98-09-09","98-09-10","monthly mean"], "range": [2,2,2,1.2]}, "legend": {"orient": "none", "legendX": 283, "legendY": 34, "title": null, "rowPadding": 27.5, "padding": 7, "strokeColor": "black", "fillColor": "white", "symbolType": "M-5,0H5", "symbolSize": 121, "symbolOffset": 18, "labelOffset": 23, "symbolStrokeColor": "black", "labelFont": "DejaVu Sans", "labelFontSize": 15.5, "labelColor": "black", "labelLimit": 300, "labelExpr": "datum.label == 'monthly mean' ? ['monthly','mean'] : datum.label"}},
  "color": {"value": "black"}}},
 {"data": {"name": "frame"}, "mark": {"type": "rect", "filled": false, "stroke": "black", "strokeWidth": 3}, "encoding": {"x": {"datum": 0, "type": "quantitative"}, "x2": {"datum": 24}, "y": {"datum": 0, "type": "quantitative"}, "y2": {"datum": 100}}}
]}
], "spacing": 34, "bounds": "flush", "resolve": {"scale": {"x":"independent","y":"independent","strokeDash":"independent","strokeWidth":"independent"}, "legend": {"strokeDash":"independent","strokeWidth":"independent"}}},
{"hconcat": [
{"width": 431, "height": 240, "data": {"name": "p7"}, "layer": [
 {"data": {"name": "grid"}, "mark": {"type": "rule", "stroke": "black", "strokeWidth": 1}, "encoding": {"y": {"field": "g", "type": "quantitative", "scale": {"domain": [0,100], "range": [166,28], "nice": false, "zero": false}}, "x": {"datum": 0, "type": "quantitative", "scale": {"domain": [0,24], "range": [104,258], "nice": false, "zero": false}}, "x2": {"datum": 24}}},
 {"mark": {"type": "line"}, "encoding": {
  "x": {"field": "h", "type": "quantitative", "scale": {"domain": [0,24], "range": [104,258], "nice": false, "zero": false}, "axis": {"title": "LST", "values": [0,3,6,9,12,15,18,21,24], "offset": -74, "tickSize": -4, "labelPadding": 19, "labelFlush": false, "labelOverlap": false, "titleX": 181, "titleY": 49, "titleBaseline": "middle"}},
  "y": {"field": "v", "type": "quantitative", "scale": {"domain": [0,100], "range": [166,28], "nice": false, "zero": false}, "axis": {"title": ["RELATIVE","HUMIDITY(%)"], "values": [0,20,40,60,80,100], "offset": -104, "ticks": false, "labelPadding": 10, "titleX": -75, "titleY": 97, "titleAngle": -90, "titleBaseline": "middle", "titleAlign": "center", "titleLineHeight": 21}},
  "strokeDash": {"field": "s", "type": "nominal", "scale": {"domain": ["99-05-14","monthly mean"], "range": [[1,0],[4,6]]}, "legend": {"orient": "none", "legendX": 281, "legendY": 53, "title": null, "rowPadding": 24, "padding": 7, "strokeColor": "black", "fillColor": "white", "symbolType": "M-5,0H5", "symbolSize": 121, "symbolOffset": 18, "labelOffset": 23, "symbolStrokeColor": "black", "labelFont": "DejaVu Sans", "labelFontSize": 15.5, "labelColor": "black", "labelLimit": 300, "labelExpr": "datum.label == 'monthly mean' ? ['monthly','mean'] : datum.label"}},
  "strokeWidth": {"field": "s", "type": "nominal", "scale": {"type": "ordinal", "domain": ["99-05-14","monthly mean"], "range": [2.2,1.2]}, "legend": {"orient": "none", "legendX": 281, "legendY": 53, "title": null, "rowPadding": 24, "padding": 7, "strokeColor": "black", "fillColor": "white", "symbolType": "M-5,0H5", "symbolSize": 121, "symbolOffset": 18, "labelOffset": 23, "symbolStrokeColor": "black", "labelFont": "DejaVu Sans", "labelFontSize": 15.5, "labelColor": "black", "labelLimit": 300, "labelExpr": "datum.label == 'monthly mean' ? ['monthly','mean'] : datum.label"}},
  "color": {"value": "black"}}},
 {"data": {"name": "frame"}, "mark": {"type": "rect", "filled": false, "stroke": "black", "strokeWidth": 3}, "encoding": {"x": {"datum": 0, "type": "quantitative"}, "x2": {"datum": 24}, "y": {"datum": 0, "type": "quantitative"}, "y2": {"datum": 100}}}
]},
{"width": 426, "height": 240, "data": {"name": "p8"}, "layer": [
 {"data": {"name": "grid"}, "mark": {"type": "rule", "stroke": "black", "strokeWidth": 1}, "encoding": {"y": {"field": "g", "type": "quantitative", "scale": {"domain": [0,100], "range": [166,28], "nice": false, "zero": false}}, "x": {"datum": 0, "type": "quantitative", "scale": {"domain": [0,24], "range": [103,256], "nice": false, "zero": false}}, "x2": {"datum": 24}}},
 {"mark": {"type": "line"}, "encoding": {
  "x": {"field": "h", "type": "quantitative", "scale": {"domain": [0,24], "range": [103,256], "nice": false, "zero": false}, "axis": {"title": "LST", "values": [0,3,6,9,12,15,18,21,24], "offset": -74, "tickSize": -4, "labelPadding": 19, "labelFlush": false, "labelOverlap": false, "titleX": 179.5, "titleY": 49, "titleBaseline": "middle"}},
  "y": {"field": "v", "type": "quantitative", "scale": {"domain": [0,100], "range": [166,28], "nice": false, "zero": false}, "axis": {"title": ["RELATIVE","HUMIDITY(%)"], "values": [0,20,40,60,80,100], "offset": -103, "ticks": false, "labelPadding": 10, "titleX": -74, "titleY": 97, "titleAngle": -90, "titleBaseline": "middle", "titleAlign": "center", "titleLineHeight": 21}},
  "strokeDash": {"field": "s", "type": "nominal", "scale": {"domain": ["99-06-10","99-06-27","monthly mean"], "range": [[1,0],[1,0],[4,6]]}, "legend": {"orient": "none", "legendX": 283, "legendY": 31, "title": null, "rowPadding": 25, "padding": 7, "strokeColor": "black", "fillColor": "white", "symbolType": "M-5,0H5", "symbolSize": 121, "symbolOffset": 18, "labelOffset": 23, "symbolStrokeColor": "black", "labelFont": "DejaVu Sans", "labelFontSize": 15.5, "labelColor": "black", "labelLimit": 300, "labelExpr": "datum.label == 'monthly mean' ? ['monthly','mean'] : datum.label"}},
  "strokeWidth": {"field": "s", "type": "nominal", "scale": {"type": "ordinal", "domain": ["99-06-10","99-06-27","monthly mean"], "range": [2,2,1.2]}, "legend": {"orient": "none", "legendX": 283, "legendY": 31, "title": null, "rowPadding": 25, "padding": 7, "strokeColor": "black", "fillColor": "white", "symbolType": "M-5,0H5", "symbolSize": 121, "symbolOffset": 18, "labelOffset": 23, "symbolStrokeColor": "black", "labelFont": "DejaVu Sans", "labelFontSize": 15.5, "labelColor": "black", "labelLimit": 300, "labelExpr": "datum.label == 'monthly mean' ? ['monthly','mean'] : datum.label"}},
  "color": {"value": "black"}}},
 {"data": {"name": "frame"}, "mark": {"type": "rect", "filled": false, "stroke": "black", "strokeWidth": 3}, "encoding": {"x": {"datum": 0, "type": "quantitative"}, "x2": {"datum": 24}, "y": {"datum": 0, "type": "quantitative"}, "y2": {"datum": 100}}}
]}
], "spacing": 34, "bounds": "flush", "resolve": {"scale": {"x":"independent","y":"independent","strokeDash":"independent","strokeWidth":"independent"}, "legend": {"strokeDash":"independent","strokeWidth":"independent"}}}
],
"config": {
 "view": {"stroke": "black", "strokeWidth": 1, "fill": "white"},
 "font": "Liberation Sans",
 "axis": {"labelFont": "Liberation Sans", "labelFontSize": 14, "labelColor": "black", "titleFont": "Liberation Sans", "titleFontSize": 14, "titleFontWeight": "normal", "titleColor": "black", "grid": false, "domain": false, "tickColor": "black", "tickWidth": 1},
 "line": {"strokeJoin": "round"}
}
}
